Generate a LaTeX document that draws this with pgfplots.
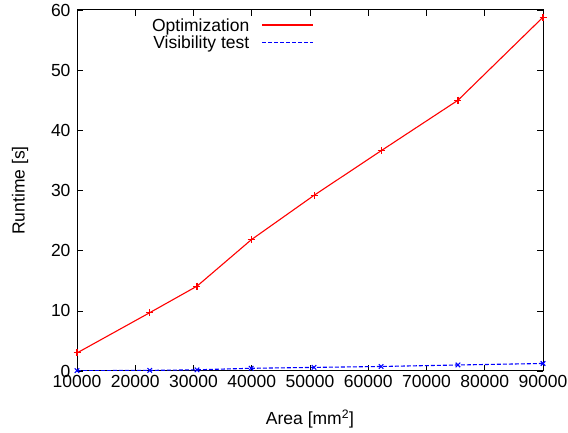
\documentclass[border=0pt]{standalone}
\usepackage{fontspec}
\setmainfont{Liberation Sans}
\usepackage{pgfplots}
\pgfplotsset{compat=1.18}
\begin{document}
\begin{tikzpicture}
\begin{axis}[
  scale only axis,
  width=466pt, height=361pt,
  xmin=10000, xmax=90000, ymin=0, ymax=60,
  xtick={10000,20000,30000,40000,50000,60000,70000,80000,90000},
  ytick={0,10,20,30,40,50,60},
  scaled x ticks=false,
  /pgf/number format/assume math mode=true,
  /pgf/number format/1000 sep={},
  tick align=inside,
  major tick length=6pt,
  tick style={black, line width=0.6pt},
  axis line style={black, line width=1pt},
  font=\fontsize{17.5}{20}\selectfont,
  tick label style={font=\fontsize{17.5}{20}\selectfont},
  xticklabel style={yshift=-1pt},
  yticklabel style={xshift=-3pt},
  xlabel={Area [mm\textsuperscript{2}]},
  ylabel={Runtime [s]},
  xlabel style={yshift=-15pt},
  ylabel style={yshift=16pt},
  legend plot pos=right,
  legend cell align=right,
  legend style={fill=none, draw=none, at={(rel axis cs:0.511,0.985)}, anchor=north east,
    font=\fontsize{17.5}{19}\selectfont, row sep=-1pt, column sep=10pt, inner sep=1pt},
  legend image code/.code={\path[#1] (0pt,0.5pt) edge (51pt,0.5pt);},
]
\coordinate (ll) at (rel axis cs:0,0);
\coordinate (ur) at (rel axis cs:1,1);
\addlegendimage{color=red, draw=red, line width=1.6pt}
\addlegendentry{Optimization}
\addlegendimage{color=blue, draw=blue, line width=1.4pt, dash pattern=on 4pt off 2pt}
\addlegendentry{Visibility test}
\addplot[forget plot, red, line width=1.1pt, mark=+, mark size=3.5pt, mark options={solid, line width=1.1pt}] coordinates {
(10000,3.0) (22500,9.7) (30600,14.1) (39900,21.8) (50700,29.2) (62200,36.6) (75400,45.0) (90000,58.8)
};
\addplot[forget plot, blue, line width=1.1pt, dash pattern=on 4pt off 2pt, mark=x, mark size=3.2pt, mark options={solid, line width=1.1pt}] coordinates {
(10000,0.05) (22500,0.1) (30600,0.2) (39900,0.45) (50700,0.6) (62200,0.75) (75400,1.0) (90000,1.25)
};
\end{axis}
\pgfresetboundingbox
\path (ll) ++(-77pt,-61pt) coordinate (a);
\path (ur) ++(25pt,10pt) coordinate (b);
\path[use as bounding box] (a) rectangle (b);
\end{tikzpicture}
\end{document}
